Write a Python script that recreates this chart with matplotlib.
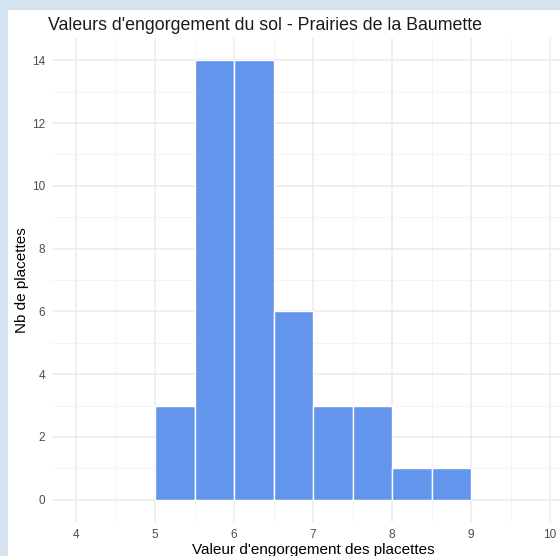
import numpy as np
import matplotlib.pyplot as plt
from matplotlib.patches import Rectangle

plt.rcParams['font.family'] = ['Liberation Sans', 'DejaVu Sans']

# classes de valeur d'engorgement (bornes) et effectifs
bin_left = [5.0, 5.5, 6.0, 6.5, 7.0, 7.5, 8.0, 8.5]
counts = [3, 14, 14, 6, 3, 3, 1, 1]
x_ticks = [4, 5, 6, 7, 8, 9, 10]
y_ticks = [0, 2, 4, 6, 8, 10, 12, 14]

W, H = 560, 556
fig = plt.figure(figsize=(W / 100, H / 100), dpi=100, facecolor='#d5e3f1')
# fond blanc (capture recadrée)
fig.patches.append(Rectangle((8 / W, 0), 1, 1 - 10 / H, transform=fig.transFigure,
                             facecolor='white', edgecolor='none', zorder=-5))

# panneau : x 3.7..10.3 -> 52.3..573.7 px ; y -0.7..14.7 -> 521.7..38.3 px
left, right = 52.3 / W, 573.7 / W
bottom, top = 1 - 521.7 / H, 1 - 38.3 / H
ax = fig.add_axes([left, bottom, right - left, top - bottom])
ax.set_zorder(2)
ax.set_facecolor('none')

ax.bar(bin_left, counts, width=0.5, align='edge', color='#6495ED',
       edgecolor='white', linewidth=1, zorder=3)

ax.set_xlim(3.7, 10.3)
ax.set_ylim(-0.7, 14.7)
ax.set_xticks(x_ticks)
ax.set_yticks(y_ticks)
ax.set_xticks(np.arange(4.5, 10, 1), minor=True)
ax.set_yticks(np.arange(1, 15, 2), minor=True)
ax.grid(which='major', color='#ebebeb', linewidth=1.1, zorder=0)
ax.grid(which='minor', color='#f3f3f3', linewidth=0.6, zorder=0)
ax.tick_params(which='both', length=0, labelsize=8.5, labelcolor='#4d4d4d', pad=5)
for s in ax.spines.values():
    s.set_visible(False)

ax.set_xlabel("Valeur d'engorgement des placettes", fontsize=11, labelpad=1.5)
ax.set_ylabel("Nb de placettes", fontsize=11, labelpad=2.5)
fig.text(48 / W, 1 - 25 / H, "Valeurs d'engorgement du sol - Prairies de la Baumette",
         fontsize=12.8, va='center', ha='left', color='#1a1a1a')

fig.savefig('out.png', dpi=100, facecolor=fig.get_facecolor())
